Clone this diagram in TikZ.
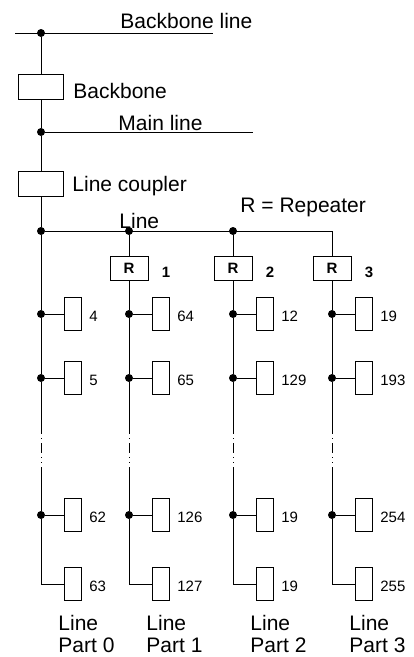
\documentclass[tikz,border=0pt]{standalone}
\usepackage{fontspec}
\setmainfont{Liberation Sans}
\tikzset{
  junction/.style={circle,fill,inner sep=0pt,minimum size=8pt},
  coupler/.style={draw,minimum width=45pt,minimum height=25pt,inner sep=0pt},
  repeater/.style={draw,minimum width=38pt,minimum height=24pt,inner sep=0pt,
    font=\fontsize{15}{18}\selectfont\bfseries},
  device/.style={draw,minimum width=17pt,minimum height=33pt,inner sep=0pt},
  big/.style={font=\fontsize{21}{23}\selectfont,inner sep=0pt},
  small/.style={font=\fontsize{15}{18}\selectfont,inner sep=0pt,anchor=west},
  gap/.style={dash pattern=on 1pt off 4pt on 1pt off 4pt on 10pt off 4pt}
}
\begin{document}
\begin{tikzpicture}[x=1pt,y=-1pt,line width=0.9pt]
  \useasboundingbox (0,0) rectangle (413,657);
  % backbone and main line
  \coordinate (bbW) at (15,33);
  \coordinate (bbE) at (213,33);
  \node[junction] (bbJ) at (41,33) {};
  \node[coupler] (bc) at (41,87) {};
  \node[junction] (mlJ) at (41,132) {};
  \coordinate (mlE) at (253,132);
  \node[coupler] (lc) at (41,184) {};
  \draw (bbW) -- (bbE);
  \draw (mlJ) -- (mlE);
  \draw (bbJ) -- (bc) -- (mlJ) -- (lc);
  \node[big,anchor=base west] (tbb) at (120,28) {Backbone line};
  \node[big,anchor=base west] (tbc) at (73,98) {Backbone};
  \node[big,anchor=base west] (tml) at (118,130) {Main line};
  \node[big,anchor=base west] (tlc) at (72,191) {Line coupler};
  \node[big,anchor=base west] (tl) at (119,228) {Line};
  \node[big,anchor=base west] (trep) at (240,212) {R = Repeater};
  % line with repeaters
  \node[junction] (j0) at (41,231) {};
  \node[junction] (j1) at (129,231) {};
  \node[junction] (j2) at (233,231) {};
  \coordinate (j3) at (332,231);
  \draw (lc) -- (j0) -- (j3);
  \foreach \i/\x in {1/129,2/233,3/332} {
    \node[repeater] (r\i) at (\x,268) {R};
    \node[small,font=\fontsize{15}{18}\selectfont\bfseries] (rn\i) at ([xshift=13pt,yshift=-4pt]r\i.east) {\i};
    \draw (j\i) -- (r\i);
  }
  % line parts
  \foreach \c/\x/\top/\a/\b/\e/\d in {0/41/j0/4/5/62/63, 1/129/r1/64/65/126/127,
      2/233/r2/12/129/19/19, 3/332/r3/19/193/254/255} {
    \node[junction] (p\c-1) at (\x,314) {};
    \node[junction] (p\c-2) at (\x,378) {};
    \node[junction] (p\c-3) at (\x,515) {};
    \coordinate (p\c-4) at (\x,584);
    \coordinate (g\c-1) at (\x,433);
    \coordinate (g\c-2) at (\x,469);
    \foreach \k/\n in {1/\a,2/\b,3/\e,4/\d} {
      \node[device] (d\c-\k) at ([xshift=32pt]p\c-\k) {};
      \node[small] (n\c-\k) at ([xshift=7pt,yshift=-2pt]d\c-\k.east) {\n};
      \draw (p\c-\k) -- (d\c-\k);
    }
    \draw (\top) -- (p\c-1) -- (p\c-2) -- (g\c-1);
    \draw[gap] (g\c-1) -- (g\c-2);
    \draw (g\c-2) -- (p\c-3) -- (p\c-4);
    \node[big,font=\fontsize{21}{22}\selectfont,align=left,anchor=north west] (lp\c) at (\x+17,615) {Line\\Part \c};
  }
\end{tikzpicture}
\end{document}
